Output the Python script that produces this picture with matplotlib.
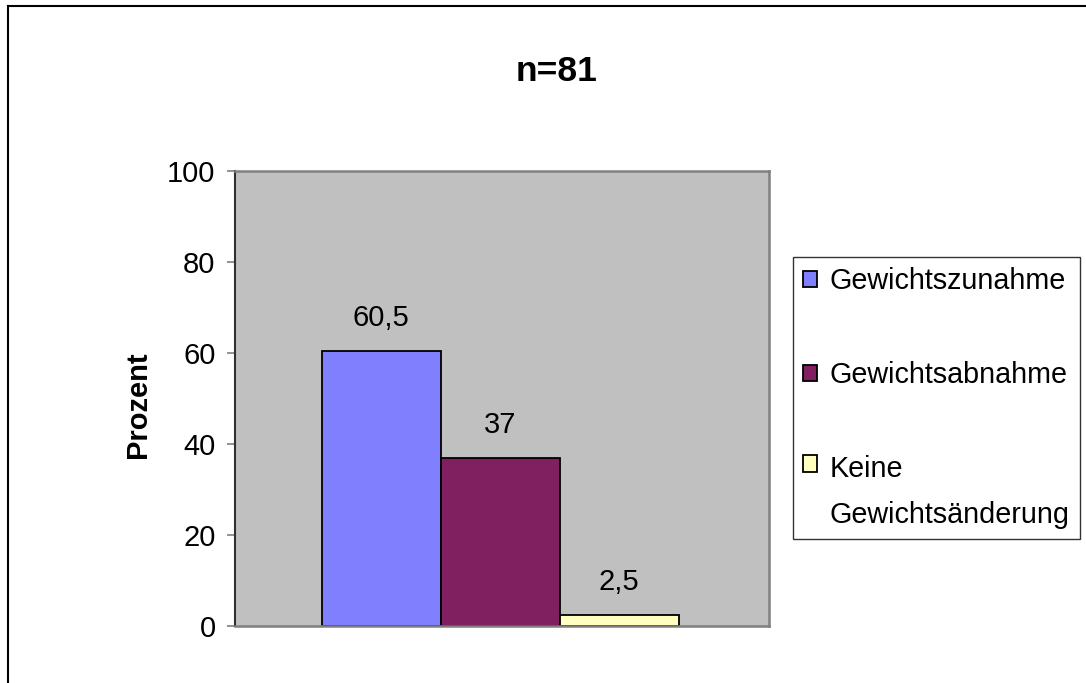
import matplotlib
matplotlib.use('Agg')
import matplotlib.pyplot as plt
from matplotlib.lines import Line2D

plt.rcParams['font.family'] = ['Liberation Sans', 'DejaVu Sans']

# Daten
kategorien = ['Gewichtszunahme', 'Gewichtsabnahme', 'Keine\nGewichtsänderung']
werte = [60.5, 37, 2.5]
beschriftung = ['60,5', '37', '2,5']
farben = ['#8080FF', '#802060', '#FFFFC0']
y_ticks = [0, 20, 40, 60, 80, 100]

W, H = 1086, 683
fig = plt.figure(figsize=(W / 100, H / 100), dpi=100)
ax = fig.add_axes([235 / W, 1 - 626 / H, (769 - 235) / W, (626 - 171) / H])
ax.set_facecolor('#C0C0C0')

pos = [-1, 0, 1]
bars = ax.bar(pos, werte, width=1.0, color=farben, edgecolor='black',
              linewidth=1.3, label=kategorien)
for b, txt in zip(bars, beschriftung):
    ax.annotate(txt, (b.get_x() + b.get_width() / 2, b.get_height()),
                xytext=(0, 17.5), textcoords='offset points',
                ha='center', va='baseline', fontsize=21)

ax.set_xlim(-2.23, 2.26)
ax.set_ylim(0, 100)
ax.set_yticks(y_ticks)
ax.set_xticks([])
ax.tick_params(axis='y', labelsize=21, length=6, width=1.2, color='#808080', pad=8)
for s in ['top', 'right', 'bottom']:
    ax.spines[s].set_color('#808080')
    ax.spines[s].set_linewidth(1.8)
ax.spines['left'].set_color('#303030')
ax.spines['left'].set_linewidth(1.5)

fig.text(557 / W, 1 - 81 / H, 'n=81', ha='center', va='baseline',
         fontsize=25.5, fontweight='bold')
fig.text(138 / W, 1 - 405 / H, 'Prozent', ha='center', va='center',
         rotation=90, fontsize=21, fontweight='bold')

leg = fig.legend(handles=list(bars), labels=kategorien, loc='upper left',
                 bbox_to_anchor=(793 / W, 1 - 257 / H), borderaxespad=0,
                 fontsize=20.7, frameon=True, fancybox=False, edgecolor='black',
                 handlelength=0.5, handleheight=0.5, handletextpad=0.42,
                 borderpad=0.35, labelspacing=2.3)
leg.get_frame().set_linewidth(1.0)
for t in leg.get_texts():
    t.set_linespacing(1.8)
# Kästchen beim zweizeiligen Eintrag an der ersten Zeile ausrichten
try:
    eintraege = leg._legend_handle_box.get_children()[0].get_children()
    eintraege[2].align = 'top'
except Exception:
    pass

# Rahmen links und oben
fig.add_artist(Line2D([8 / W, 8 / W], [0, 1 - 6 / H], color='black', linewidth=1.5))
fig.add_artist(Line2D([8 / W, 1], [1 - 6 / H, 1 - 6 / H], color='black', linewidth=1.5))

fig.savefig('out.png', dpi=100)
